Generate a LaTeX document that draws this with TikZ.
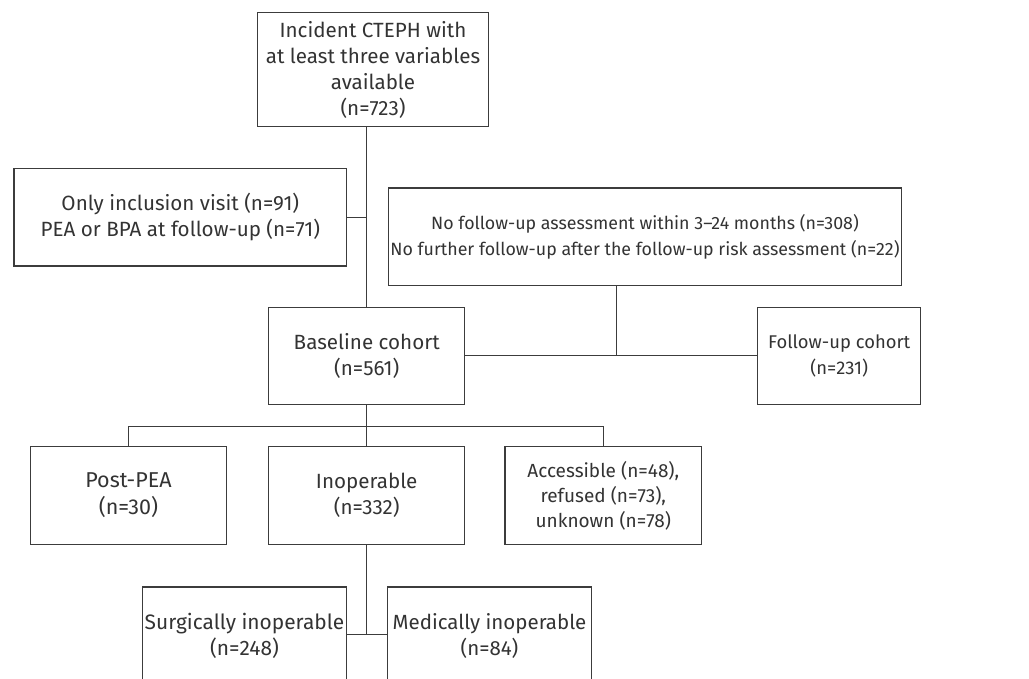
\documentclass[tikz,border=0pt]{standalone}
\usepackage{fontspec}
\setmainfont{Fira Sans}
\begin{document}
\begin{tikzpicture}[x=1pt,y=-1pt,
  box/.style={draw=linegray, line width=1.2pt, rectangle, inner sep=0pt, align=center,
    text=textgray, font=\fontsize{20.6}{26}\selectfont},
  conn/.style={draw=linegray, line width=1.2pt}]
\definecolor{linegray}{HTML}{3C3C3C}
\definecolor{textgray}{HTML}{333333}
\useasboundingbox (0,0) rectangle (1029,679);
\clip (0,0) rectangle (1029,679);
\node[box, minimum width=231.4pt, minimum height=114pt] (top) at (373,69.7)
  {Incident CTEPH with\\at least three variables\\available\\(n=723)};
\node[box, minimum width=332.7pt, minimum height=97.2pt] (excl) at (180.3,217.4)
  {Only inclusion visit (n=91)\\PEA or BPA at follow-up (n=71)};
\node[box, minimum width=513.4pt, minimum height=97.3pt, font=\fontsize{17.8}{26.6}\selectfont] (nofu) at (645,236.7)
  {No follow-up assessment within 3--24 months (n=308)\\No further follow-up after the follow-up risk assessment (n=22)};
\node[box, minimum width=196pt, minimum height=97pt] (base) at (366.7,355.8)
  {Baseline cohort\\(n=561)};
\node[box, minimum width=163pt, minimum height=97pt, font=\fontsize{18.4}{26}\selectfont] (fu) at (839.2,355.8)
  {Follow-up cohort\\(n=231)};
\node[box, minimum width=196.4pt, minimum height=97.7pt, font=\fontsize{21.5}{27}\selectfont] (post) at (128.5,495.4)
  {Post-PEA\\(n=30)};
\node[box, minimum width=196pt, minimum height=97.7pt] (inop) at (366.7,495.4)
  {Inoperable\\(n=332)};
\node[box, minimum width=196.7pt, minimum height=97.7pt, font=\fontsize{19}{25}\selectfont] (acc) at (603.3,495.4)
  {Accessible (n=48),\\refused (n=73),\\unknown (n=78)};
\node[box, minimum width=204.4pt, minimum height=97pt, font=\fontsize{20.9}{26}\selectfont] (surg) at (244.5,635.5)
  {Surgically inoperable\\(n=248)};
\node[box, minimum width=204.4pt, minimum height=97pt, font=\fontsize{20.5}{26}\selectfont] (med) at (489.5,635.5)
  {Medically inoperable\\(n=84)};
\coordinate (j) at (616.7,355.8);
\coordinate (split) at (366.7,426.5);
\coordinate (bsplit) at (366.7,634.3);
\draw[conn] (top.south -| base.north) -- (base.north);
\draw[conn] (excl.east) -- (excl.east -| base.north);
\draw[conn] (base.east) -- (fu.west);
\draw[conn] (j |- nofu.south) -- (j);
\draw[conn] (base.south) -- (split);
\draw[conn] (post.north) |- (split) -| (acc.north);
\draw[conn] (split) -- (inop.north);
\draw[conn] (inop.south) -- (bsplit);
\draw[conn] (surg.east |- bsplit) -- (med.west |- bsplit);
\end{tikzpicture}
\end{document}
